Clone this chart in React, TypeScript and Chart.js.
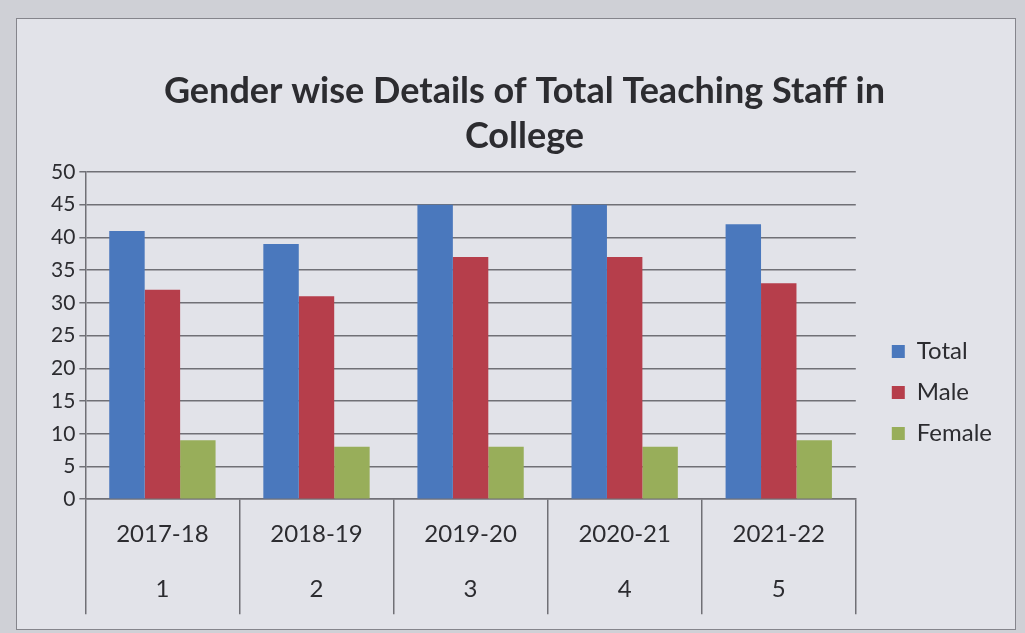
import React, { useEffect, useRef } from "react";
import { Chart, registerables } from "chart.js";

Chart.register(...registerables);

const titleLines = ["Gender wise Details of Total Teaching Staff in", "College"];
const years = ["2017-18", "2018-19", "2019-20", "2020-21", "2021-22"];
const yearNumbers = ["1", "2", "3", "4", "5"];
const totalStaff = [41, 39, 45, 45, 42];
const maleStaff = [32, 31, 37, 37, 33];
const femaleStaff = [9, 8, 8, 8, 9];
const yMin = 0;
const yMax = 50;
const yStep = 5;

const seriesNames = ["Total", "Male", "Female"];
const seriesColors = ["#4a78bd", "#b63e4b", "#98ae5a"];

export default function App() {
  const canvasRef = useRef<HTMLCanvasElement | null>(null);

  useEffect(() => {
    const canvas = canvasRef.current;
    if (!canvas) return;
    const textColor = "#2c2c30";
    const gridColor = "#707076";
    // two visible lines (year, index) plus two empty lines that reserve room in the axis box
    const labels = years.map((y, i) => [y, yearNumbers[i], "", ""]);
    const values = [totalStaff, maleStaff, femaleStaff];
    const chart = new Chart(canvas, {
      type: "bar",
      data: {
        labels,
        datasets: seriesNames.map((name, i) => ({
          label: name,
          data: values[i],
          backgroundColor: seriesColors[i],
          borderWidth: 0,
          barPercentage: 1,
          categoryPercentage: 0.69,
        })),
      },
      options: {
        animation: false,
        responsive: true,
        maintainAspectRatio: false,
        layout: { padding: { left: 30, right: 13, top: 0, bottom: 9 } },
        plugins: {
          tooltip: { enabled: false },
          title: {
            display: true,
            text: titleLines,
            color: textColor,
            font: { family: "Lato", size: 36, weight: "bold", lineHeight: 1.25 },
            padding: { top: 50, bottom: 13 },
          },
          legend: {
            position: "right",
            fullSize: false,
            title: {
              display: true,
              text: " ",
              font: { size: 10, lineHeight: 1 },
              padding: { top: 104, bottom: 0 },
            },
            labels: {
              boxWidth: 13,
              boxHeight: 13,
              padding: 17,
              color: textColor,
              font: { family: "Lato", size: 24 },
            },
          },
        },
        scales: {
          x: {
            grid: {
              offset: true,
              drawOnChartArea: false,
              drawTicks: true,
              tickLength: 115,
              color: gridColor,
              lineWidth: 1.5,
            },
            border: { display: true, color: gridColor, width: 1.5 },
            ticks: {
              color: textColor,
              font: { family: "Lato", size: 24, lineHeight: 2.3 },
              padding: -107.5,
              maxRotation: 0,
              autoSkip: false,
            },
          },
          y: {
            min: yMin,
            max: yMax,
            grid: { color: gridColor, lineWidth: 1.5, tickLength: 6 },
            border: { display: true, color: gridColor, width: 1.5 },
            ticks: {
              stepSize: yStep,
              color: textColor,
              padding: 4,
              font: { family: "Lato", size: 21 },
            },
          },
          spacer: {
            type: "linear",
            position: "right",
            display: true,
            grid: { display: false },
            border: { display: false },
            ticks: { display: false },
            afterFit: (scale: any) => {
              scale.width = 19;
            },
          },
        },
      } as any,
    });
    return () => chart.destroy();
  }, []);

  return (
    <div
      style={{
        position: "fixed",
        left: 0,
        top: 0,
        width: 1025,
        height: 633,
        background: "#cfd0d6",
      }}
    >
      <div
        style={{
          position: "absolute",
          left: 16,
          top: 18,
          width: 998,
          height: 610,
          border: "1px solid #85858c",
          background: "#e2e3e9",
        }}
      >
        <canvas ref={canvasRef} />
      </div>
    </div>
  );
}
